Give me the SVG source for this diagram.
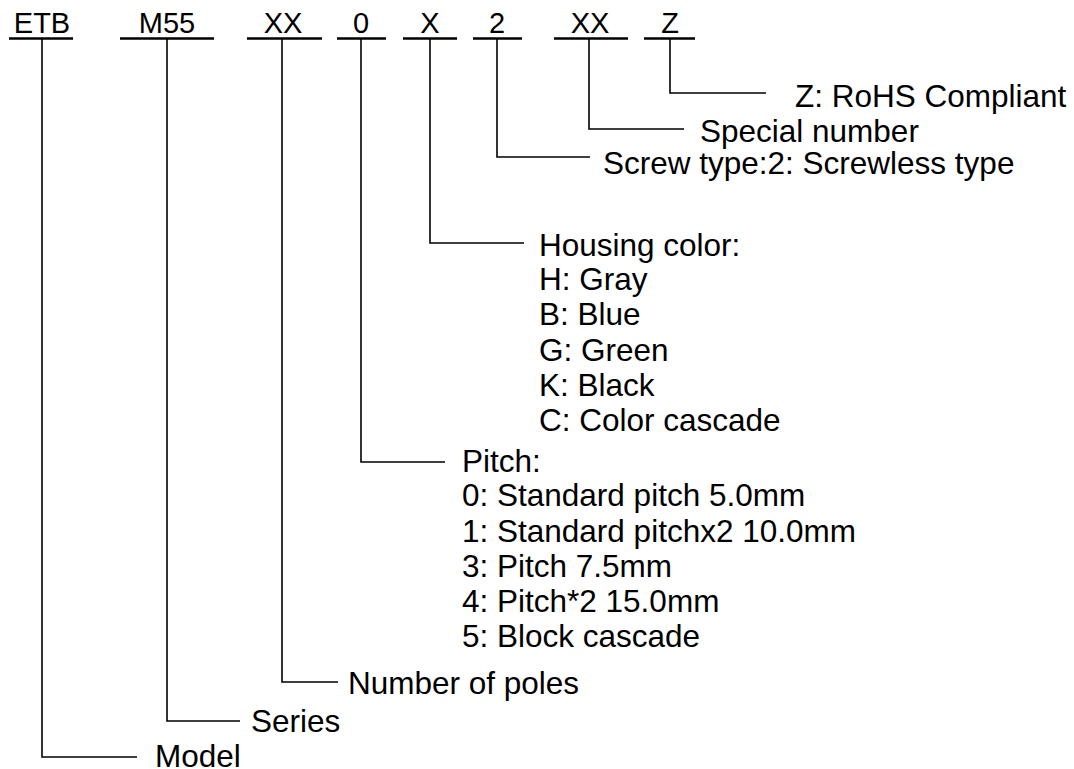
<svg xmlns="http://www.w3.org/2000/svg" width="1074" height="769" viewBox="0 0 1074 769">
<style>
.code{font-family:"Liberation Sans",Arial,sans-serif;font-size:29px;fill:#000;text-anchor:middle}
.lbl{font-family:"Liberation Sans",Arial,sans-serif;font-size:31.5px;fill:#000}
.ul{stroke:#000;stroke-width:2.5;fill:none}
.con{stroke:#000;stroke-width:1.6;fill:none}
</style>
<rect width="1074" height="769" fill="#fff"/>
<g id="codes">
<g id="c-etb"><text class="code" x="42" y="33">ETB</text><line class="ul" x1="9" y1="38.5" x2="73" y2="38.5"/></g>
<g id="c-m55"><text class="code" x="167" y="33">M55</text><line class="ul" x1="120" y1="38.5" x2="214" y2="38.5"/></g>
<g id="c-xx1"><text class="code" x="283" y="33">XX</text><line class="ul" x1="247" y1="38.5" x2="322" y2="38.5"/></g>
<g id="c-0"><text class="code" x="361" y="33">0</text><line class="ul" x1="337" y1="38.5" x2="386" y2="38.5"/></g>
<g id="c-x"><text class="code" x="430" y="33">X</text><line class="ul" x1="403" y1="38.5" x2="457" y2="38.5"/></g>
<g id="c-2"><text class="code" x="497" y="33">2</text><line class="ul" x1="473" y1="38.5" x2="522" y2="38.5"/></g>
<g id="c-xx2"><text class="code" x="590" y="33">XX</text><line class="ul" x1="554" y1="38.5" x2="628" y2="38.5"/></g>
<g id="c-z"><text class="code" x="670" y="33">Z</text><line class="ul" x1="644" y1="38.5" x2="695" y2="38.5"/></g>
</g>
<g id="connectors">
<polyline class="con" points="42,39 42,757 137,757"/>
<polyline class="con" points="167,39 167,721 240,721"/>
<polyline class="con" points="282,39 282,682 338,682"/>
<polyline class="con" points="361,39 361,462 445,462"/>
<polyline class="con" points="430,39 430,243 524,243"/>
<polyline class="con" points="497,39 497,157 590,157"/>
<polyline class="con" points="589,39 589,129 684,129"/>
<polyline class="con" points="670,39 670,93 766,93"/>
</g>
<g id="n-rohs"><text class="lbl" x="795" y="107">Z: RoHS Compliant</text></g>
<g id="n-special"><text class="lbl" x="700" y="142">Special number</text></g>
<g id="n-screw"><text class="lbl" x="603" y="174">Screw type:2: Screwless type</text></g>
<g id="n-housing">
<text class="lbl" x="539" y="256">Housing color:</text>
<text class="lbl" x="539" y="290">H: Gray</text>
<text class="lbl" x="539" y="325">B: Blue</text>
<text class="lbl" x="539" y="361">G: Green</text>
<text class="lbl" x="539" y="396">K: Black</text>
<text class="lbl" x="539" y="431">C: Color cascade</text>
</g>
<g id="n-pitch">
<text class="lbl" x="462" y="472">Pitch:</text>
<text class="lbl" x="462" y="506">0: Standard pitch 5.0mm</text>
<text class="lbl" x="462" y="542">1: Standard pitchx2 10.0mm</text>
<text class="lbl" x="462" y="577">3: Pitch 7.5mm</text>
<text class="lbl" x="462" y="612">4: Pitch*2 15.0mm</text>
<text class="lbl" x="462" y="647">5: Block cascade</text>
</g>
<g id="n-poles"><text class="lbl" x="348" y="694">Number of poles</text></g>
<g id="n-series"><text class="lbl" x="251" y="732">Series</text></g>
<g id="n-model"><text class="lbl" x="155" y="767">Model</text></g>
</svg>
